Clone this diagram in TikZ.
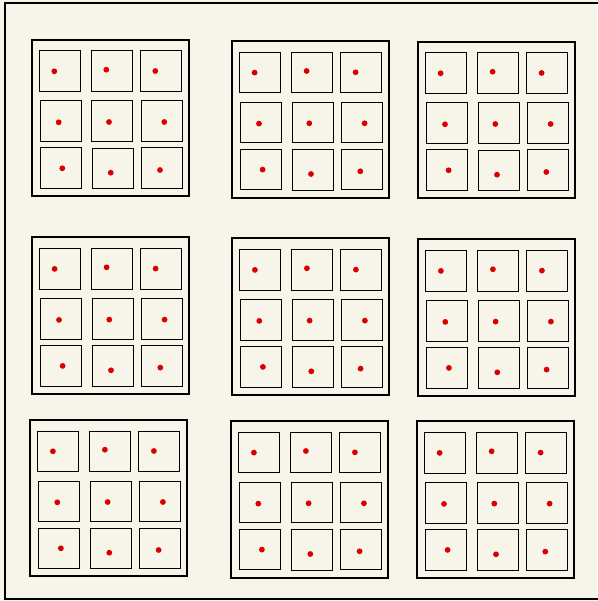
\documentclass[tikz,border=0pt]{standalone}
\definecolor{bg}{RGB}{247,245,233}
\definecolor{dotred}{RGB}{218,0,0}
\begin{document}
\begin{tikzpicture}[x=1pt,y=-1pt,
  block/.style={draw=black,line width=2pt},
  cell/.style={draw=black,line width=1pt},
  reddot/.style={fill=dotred}]
\fill[bg] (0,0) rectangle (597,601);
\useasboundingbox (0,0) rectangle (597,601);
\draw[line width=1.6pt] (599,3) -- (5,3) -- (5,599) -- (599,599);
\foreach \bx/\by in {31.7/39.7, 232/41, 418/41.7, 32/237.3, 232.3/238.3, 418.3/239.3, 30.3/419.7, 231.3/421, 417/421.3} {
 \begin{scope}[shift={(\bx,\by)}]
  \draw[block] (0,0) rectangle (157,156.6);
  \foreach \cx/\cy/\dx/\dy in {7.6/11.3/22.6/31.6, 59.6/11.3/74.6/30, 108.6/11.3/123.6/31.3, 8.3/61.3/27/82.6, 60/61.3/77.3/82.3, 109.3/61.3/132.6/82.3, 8.6/108.3/30.6/128.6, 60.3/108.6/79/133, 109.6/108.3/128.3/130.3} {
   \draw[cell] (\cx,\cy) rectangle ++(41,40.5);
   \fill[reddot] (\dx,\dy) circle (2.9);
  }
 \end{scope}
}
\end{tikzpicture}
\end{document}
